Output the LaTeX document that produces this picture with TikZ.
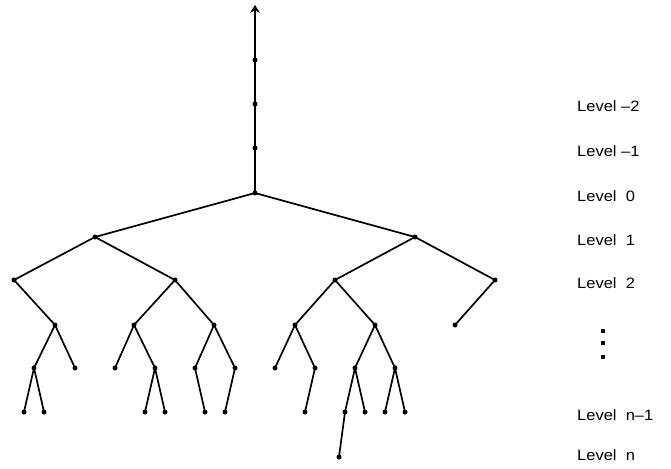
\documentclass[tikz,border=0pt]{standalone}
\usepackage{fontspec}
\setmainfont{Liberation Sans}
\usetikzlibrary{arrows.meta}
\newcommand{\lv}[1]{\scalebox{1.1}[1]{#1}}
\begin{document}
\begin{tikzpicture}[x=1pt,y=-1pt,
  vtx/.style={circle,fill=black,inner sep=0pt,minimum size=5pt},
  edge/.style={line width=1.7pt},
  lvl/.style={anchor=base west,font=\fontsize{15}{17}\selectfont,inner sep=0pt},
  sq/.style={fill=black,inner sep=0pt,minimum size=4pt}]
\useasboundingbox (0,0) rectangle (671,468);
% up chain
\coordinate (top) at (255,5);
\node[vtx] (m3) at (255,60) {};
\node[vtx] (m2) at (255,104) {};
\node[vtx] (m1) at (255,148) {};
\node[vtx] (r) at (255,193) {};
% level 1
\node[vtx] (a) at (95,237) {};
\node[vtx] (b) at (415,237) {};
% level 2
\node[vtx] (aa) at (14,280) {};
\node[vtx] (ab) at (175,280) {};
\node[vtx] (ba) at (335,280) {};
\node[vtx] (bb) at (495,280) {};
% level 3
\node[vtx] (c1) at (55,325) {};
\node[vtx] (c2) at (134,325) {};
\node[vtx] (c3) at (214,325) {};
\node[vtx] (c4) at (295,325) {};
\node[vtx] (c5) at (375,325) {};
\node[vtx] (c6) at (455,325) {};
% level 4
\node[vtx] (d1) at (34,368) {};
\node[vtx] (d2) at (75,368) {};
\node[vtx] (d3) at (115,368) {};
\node[vtx] (d4) at (155,368) {};
\node[vtx] (d5) at (195,368) {};
\node[vtx] (d6) at (235,368) {};
\node[vtx] (d7) at (275,368) {};
\node[vtx] (d8) at (315,368) {};
\node[vtx] (d9) at (355,368) {};
\node[vtx] (d10) at (395,368) {};
% level 5
\node[vtx] (e1) at (24,412) {};
\node[vtx] (e2) at (44,412) {};
\node[vtx] (e3) at (145,412) {};
\node[vtx] (e4) at (165,412) {};
\node[vtx] (e5) at (205,412) {};
\node[vtx] (e6) at (225,412) {};
\node[vtx] (e7) at (305,412) {};
\node[vtx] (e8) at (345,412) {};
\node[vtx] (e9) at (365,412) {};
\node[vtx] (e10) at (385,412) {};
\node[vtx] (e11) at (405,412) {};
% level 6
\node[vtx] (f1) at (339,457) {};
% edges
\draw[line width=2.1pt,-{Stealth[length=8pt,width=10pt,inset=3pt]}] (r.center) -- (top);
\draw[edge] (a.center) -- (r.center) -- (b.center);
\draw[edge] (aa.center) -- (a.center) -- (ab.center);
\draw[edge] (aa.center) -- (c1.center);
\draw[edge] (d1.center) -- (c1.center) -- (d2.center);
\draw[edge] (e1.center) -- (d1.center) -- (e2.center);
\draw[edge] (c2.center) -- (ab.center) -- (c3.center);
\draw[edge] (d3.center) -- (c2.center) -- (d4.center);
\draw[edge] (e3.center) -- (d4.center) -- (e4.center);
\draw[edge] (d5.center) -- (c3.center) -- (d6.center);
\draw[edge] (d5.center) -- (e5.center);
\draw[edge] (d6.center) -- (e6.center);
\draw[edge] (ba.center) -- (b.center) -- (bb.center);
\draw[edge] (c4.center) -- (ba.center) -- (c5.center);
\draw[edge] (d7.center) -- (c4.center) -- (d8.center);
\draw[edge] (d8.center) -- (e7.center);
\draw[edge] (d9.center) -- (c5.center) -- (d10.center);
\draw[edge] (e8.center) -- (d9.center) -- (e9.center);
\draw[edge] (e8.center) -- (f1.center);
\draw[edge] (e10.center) -- (d10.center) -- (e11.center);
\draw[edge] (bb.center) -- (c6.center);
% labels
\node[lvl] (l1) at (577,112) {\lv{Level –2}};
\node[lvl] (l2) at (577,156) {\lv{Level –1}};
\node[lvl] (l3) at (577,201) {\lv{Level\ \ 0}};
\node[lvl] (l4) at (577,245) {\lv{Level\ \ 1}};
\node[lvl] (l5) at (577,288) {\lv{Level\ \ 2}};
\node[sq] (s1) at (603,331) {};
\node[sq] (s2) at (603,343) {};
\node[sq] (s3) at (603,357) {};
\node[lvl] (l6) at (577,420) {\lv{Level\ \ n–1}};
\node[lvl] (l7) at (577,460) {\lv{Level\ \ n}};
\end{tikzpicture}
\end{document}
